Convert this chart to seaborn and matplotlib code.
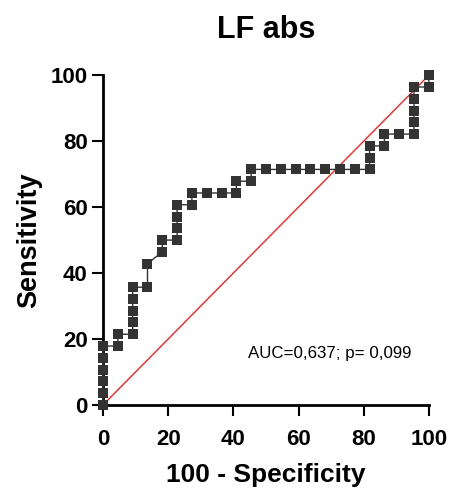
import seaborn as sns
from matplotlib import pyplot as plt

# ROC curve points (100 - specificity, sensitivity), in percent
fpr = [0, 0, 0, 0, 0, 0, 4.55, 4.55, 9.09, 9.09, 9.09, 9.09, 9.09, 13.64, 13.64,
       18.18, 18.18, 22.73, 22.73, 22.73, 22.73, 27.27, 27.27, 31.82, 36.36,
       40.91, 40.91, 45.45, 45.45, 50, 54.55, 59.09, 63.64, 68.18, 72.73, 77.27,
       81.82, 81.82, 81.82, 86.36, 86.36, 90.91, 95.45, 95.45, 95.45, 95.45, 95.45,
       100, 100]
tpr = [0, 3.57, 7.14, 10.71, 14.29, 17.86, 17.86, 21.43, 21.43, 25, 28.57, 32.14, 35.71,
       35.71, 42.86, 46.43, 50, 50, 53.57, 57.14, 60.71, 60.71, 64.29, 64.29, 64.29,
       64.29, 67.86, 67.86, 71.43, 71.43, 71.43, 71.43, 71.43, 71.43, 71.43, 71.43,
       71.43, 75, 78.57, 78.57, 82.14, 82.14, 82.14, 85.71, 89.29, 92.86, 96.43,
       96.43, 100]
ref_line = [0, 100]
ticks = [0, 20, 40, 60, 80, 100]
auc_text = 'AUC=0,637; p= 0,099'

sns.set_style('ticks')
plt.rcParams['font.family'] = ['Liberation Sans', 'DejaVu Sans']
plt.rcParams['text.color'] = 'black'
plt.rcParams['axes.labelcolor'] = 'black'
plt.rcParams['xtick.color'] = 'black'
plt.rcParams['ytick.color'] = 'black'

fig = plt.figure(figsize=(4.5, 4.95), dpi=100)
ax = fig.add_axes([0.229, 0.182, 0.724, 0.666])

sns.lineplot(x=ref_line, y=ref_line, ax=ax, color='#ff2020', linewidth=1.0,
             estimator=None, sort=False)
sns.lineplot(x=fpr, y=tpr, ax=ax, color='#333333', linewidth=1.0, marker='s',
             markersize=7.2, markeredgewidth=0, markerfacecolor='#333333',
             estimator=None, sort=False, clip_on=False, zorder=3)

ax.set_xlim(0, 100)
ax.set_ylim(0, 100)
ax.set_xticks(ticks)
ax.set_yticks(ticks)
ax.tick_params(axis='both', length=8, width=1.5, labelsize=16, pad=3, color='black',
               labelcolor='black')
ax.tick_params(axis='x', pad=9)
for lab in ax.get_xticklabels() + ax.get_yticklabels():
    lab.set_fontweight('bold')

for side in ['top', 'right']:
    ax.spines[side].set_visible(False)
for side in ['left', 'bottom']:
    ax.spines[side].set_linewidth(2)
    ax.spines[side].set_color('black')

ax.set_xlabel('100 - Specificity', fontsize=19, fontweight='bold', labelpad=10)
ax.set_ylabel('Sensitivity', fontsize=19.5, fontweight='bold', labelpad=6)
ax.set_title('LF abs', fontsize=22, fontweight='bold', pad=27)
ax.text(69.6, 15.5, auc_text, fontsize=12.2, ha='center', va='center')

plt.savefig('out.png', dpi=100)
